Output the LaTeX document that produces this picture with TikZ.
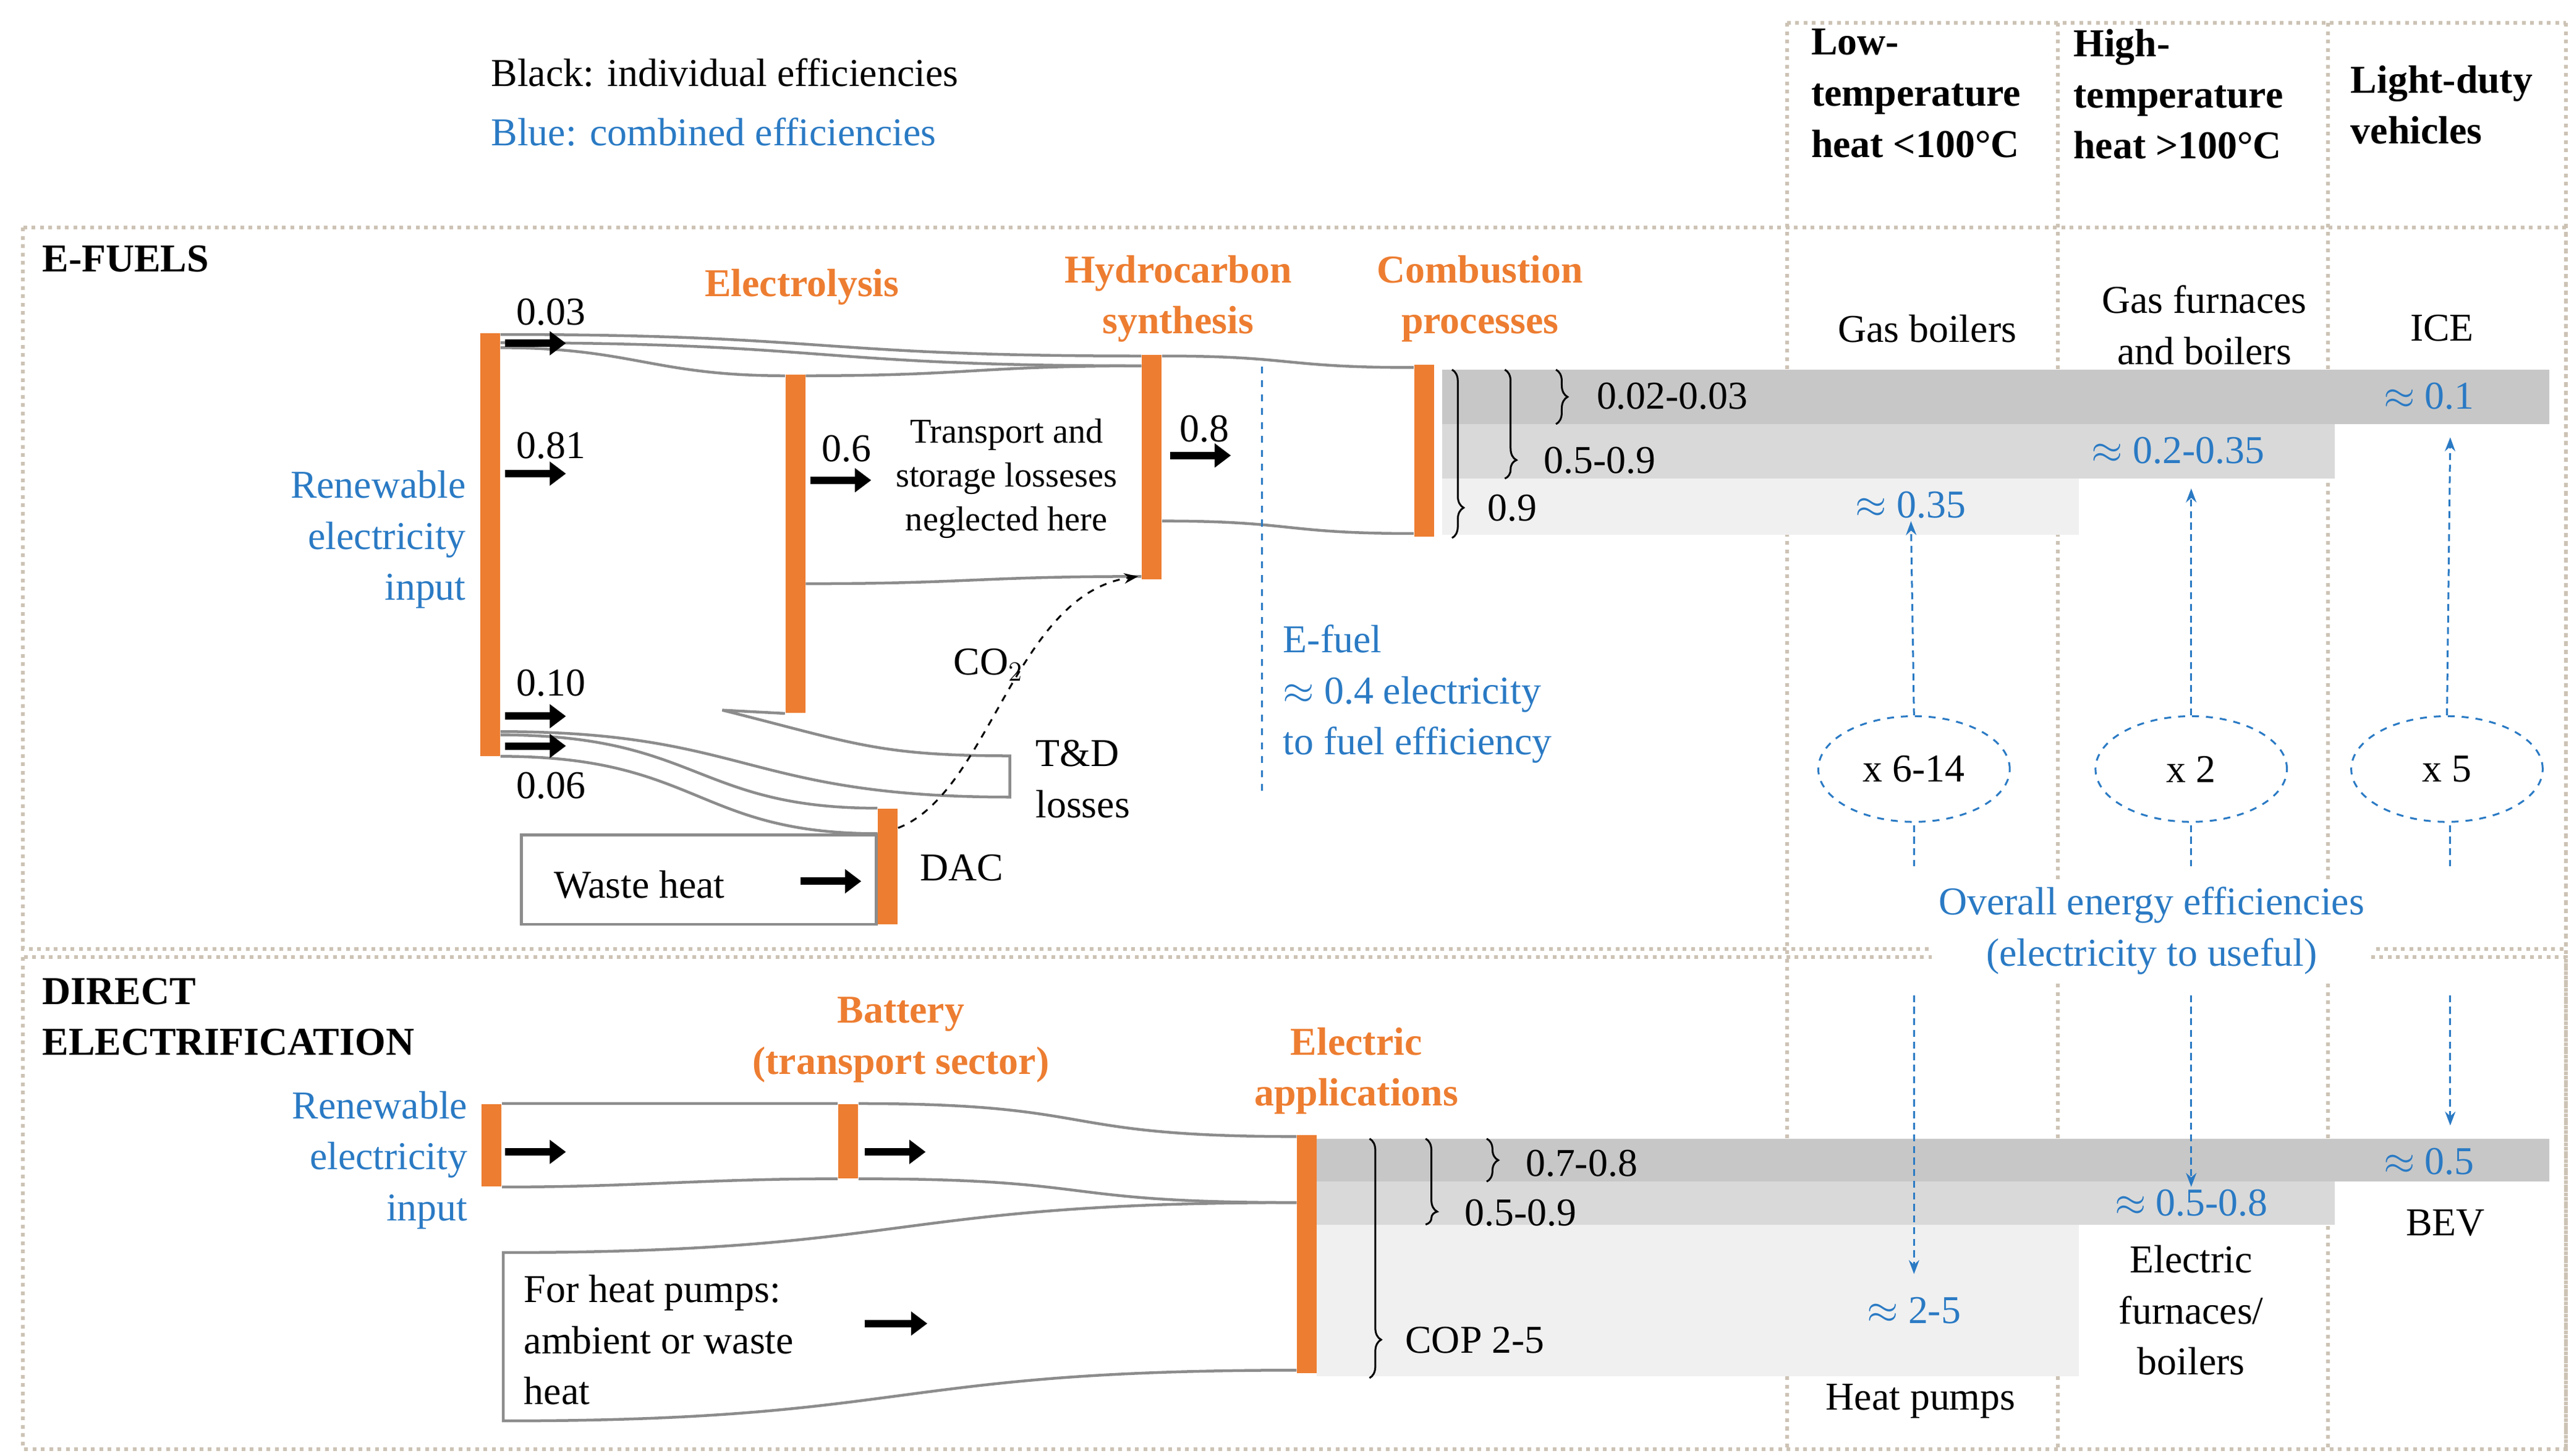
\documentclass[tikz,border=0pt]{standalone}
\usepackage{fontspec}
\setmainfont{Liberation Serif}
\usepackage{xcolor}
\usetikzlibrary{calc,arrows.meta,decorations.pathreplacing,shapes.geometric}
\definecolor{eorange}{HTML}{ED7D31}
\definecolor{eblue}{HTML}{2A7AC4}
\definecolor{frame}{HTML}{CDC3B5}
\begin{document}
\begin{tikzpicture}[
    x=0.025cm, y=-0.025cm,
    every node/.style={font=\fontsize{17}{22}\selectfont, inner sep=1pt},
    bar/.style={rectangle, fill=eorange, minimum width=0.3cm, inner sep=0pt},
    flow/.style={draw=gray!90, line width=1.2pt},
    big/.style={line width=3.2pt, -{Triangle[length=7pt,width=10pt]}},
    stage/.style={text=eorange, font=\fontsize{17}{22}\selectfont\bfseries, align=center},
    comb/.style={text=eblue},
    dots/.style={draw=frame, dotted, line width=1.6pt},
    brc/.style={decorate, thick, decoration={brace, amplitude=5pt, aspect=#1}},
    brc/.default=0.5,
    loop/.style={draw=eblue, dashed, thick, ellipse, minimum width=2.9cm, minimum height=1.6cm},
    up/.style={draw=eblue, densely dashed, thick, -{Stealth[length=6pt]}}
]
\useasboundingbox (0,0) rectangle (1560,882);

% frames
\draw[dots] (14,138) rectangle (1555,575);
\draw[dots] (14,580) rectangle (1555,878);
\draw[dots] (1083,14) -- (1555,14);
\foreach \x in {1083,1247,1411,1555}
  \draw[dots] (\x,14) -- (\x,878);

% bands
\fill[black!22] (874,224) rectangle (1545,257);
\fill[black!15] (874,257) rectangle (1415,290);
\fill[black!6] (874,290) rectangle (1260,324);
\fill[black!22] (798,690) rectangle (1545,716);
\fill[black!15] (798,716) rectangle (1415,742);
\fill[black!6] (798,742) rectangle (1260,834);

% legend and headers
\node[anchor=west] (legk) at (296,44) {Black: individual efficiencies};
\node[anchor=west, comb] (legb) at (296,80) {Blue: combined efficiencies};
\node[anchor=north west, align=left, font=\fontsize{17}{22}\selectfont\bfseries] (hlow) at (1096,16) {Low-\\temperature\\heat <100°C};
\node[anchor=north west, align=left, font=\fontsize{17}{22}\selectfont\bfseries] (hhigh) at (1255,16) {High-\\temperature\\heat >100°C};
\node[anchor=north west, align=left, font=\fontsize{17}{22}\selectfont\bfseries] (hldv) at (1423,38) {Light-duty\\vehicles};
\node[anchor=west, font=\fontsize{17}{22}\selectfont\bfseries] (efuels) at (24,157) {E-FUELS};
\node[anchor=north west, align=left, font=\fontsize{17}{22}\selectfont\bfseries] (direct) at (24,591) {DIRECT\\ELECTRIFICATION};

% e-fuel chain
\node[bar, minimum height=6.4cm] (ren) at (297,330) {};
\node[bar, minimum height=5.125cm] (elec) at (482,329.5) {};
\node[bar, minimum height=3.4cm] (hc) at (698,283) {};
\node[bar, minimum height=2.6cm] (comb) at (863,273) {};
\node[bar, minimum height=1.75cm] (dac) at (538,525) {};
\node[draw=gray!90, line width=1.2pt, minimum width=5.375cm, minimum height=1.35cm, inner sep=0pt] (waste) at (423.5,533) {};
\node[anchor=west] at (334,536) {Waste heat};
\draw[big] (485,534) -- (522,534);

\node[stage] (lelec) at (486,174) {Electrolysis};
\node[stage] (lhc) at (714,181) {Hydrocarbon\\synthesis};
\node[stage] (lcomb) at (897,181) {Combustion\\processes};
\node[comb, align=right, anchor=east] (lren) at (284,327) {Renewable\\electricity\\input};

\draw[flow] ($(ren.north east)+(0,1)$) .. controls +(200,0) and +(-200,0) .. ($(hc.north west)+(0,1)$);
\draw[flow] ($(ren.north east)+(0,6)$) .. controls +(200,0) and +(-200,0) .. ($(hc.north west)+(0,7)$);
\draw[flow] ($(ren.north east)+(0,9)$) .. controls +(80,0) and +(-80,0) .. ($(elec.north west)+(0,1)$);
\draw[flow] ($(elec.north east)+(0,1)$) .. controls +(100,0) and +(-100,0) .. ($(hc.north west)+(0,7)$);
\draw[flow] ($(elec.north east)+(0,127)$) .. controls +(100,0) and +(-100,0) .. ($(hc.south west)+(0,-2)$);
\draw[flow] ($(hc.north east)+(0,1)$) .. controls +(80,0) and +(-80,0) .. ($(comb.north west)+(0,2)$);
\draw[flow] ($(hc.north east)+(0,101)$) .. controls +(80,0) and +(-80,0) .. ($(comb.south west)+(0,-2)$);

\coordinate (td1) at (612,458);
\coordinate (td2) at (612,483);
\draw[flow] (elec.south west) -- ++(-38,-2) .. controls +(80,20) and +(-80,0) .. (td1) -- (td2)
  .. controls +(-160,0) and +(150,0) .. ($(ren.south east)+(0,-15)$);
\draw[flow] ($(ren.south east)+(0,-13)$) .. controls +(120,0) and +(-110,0) .. (dac.north west);
\draw[flow] (ren.south east) .. controls +(120,0) and +(-110,0) .. (waste.north east);

\draw[dashed, thick, -{Stealth[length=6pt]}] ($(dac.north east)+(0,12)$) .. controls (600,480) and (615,360) .. ($(hc.south west)+(-2,-2)$);
\node at (599,403) {CO$_2$};
\node[align=left, anchor=west] (td) at (626,472) {T\&D\\losses};
\node[anchor=west] (ldac) at (556,526) {DAC};

\node (n003) at (334,189) {0.03};
\node (n081) at (334,270) {0.81};
\node (n010) at (334,414) {0.10};
\node (n006) at (334,476) {0.06};
\node (n06) at (513,272) {0.6};
\node (n08) at (730,260) {0.8};
\draw[big] (306,208) -- (343,208);
\draw[big] (306,287) -- (343,287);
\draw[big] (306,434) -- (343,434);
\draw[big] (306,452) -- (343,452);
\draw[big] (491,291) -- (528,291);
\draw[big] (709,276) -- (746,276);
\node[align=center, font=\fontsize{15}{19}\selectfont] (tsl) at (610,290) {Transport and\\storage losseses\\neglected here};

\draw[eblue, dashed, thick] (765,222) -- (765,482);
\node[comb, align=left, anchor=north west] (efuel) at (776,377) {E-fuel\\$\approx$ 0.4 electricity\\to fuel efficiency};

\draw[brc] (943,224) -- (943,257);
\draw[brc=0.83] (912,224) -- (912,290);
\draw[brc=0.82] (880,224) -- (880,326);
\node[anchor=west] at (966,240) {0.02-0.03};
\node[anchor=west] at (934,279) {0.5-0.9};
\node[anchor=west] at (900,308) {0.9};

\node (gb) at (1168,199) {Gas boilers};
\node[align=center] (gfb) at (1336,197) {Gas furnaces\\and boilers};
\node (ice) at (1480,199) {ICE};
\node[comb] (v1) at (1472,240) {$\approx$ 0.1};
\node[comb] (v2) at (1320,273) {$\approx$ 0.2-0.35};
\node[comb] (v3) at (1158,306) {$\approx$ 0.35};

% factors
\node[loop] (f1) at (1160,466) {x 6-14};
\node[loop] (f2) at (1328,466) {x 2};
\node[loop] (f3) at (1483,466) {x 5};
\node[comb, align=center, fill=white, inner sep=3pt] (overall) at (1304,564) {Overall energy efficiencies\\(electricity to useful)};
\draw[up] (f1.north) -- (v3);
\draw[up] (f2.north) -- (1328,296);
\draw[up] (f3.north) -- (1485,265);
\foreach \x in {1160,1328,1485}
  \draw[eblue, densely dashed, thick] (\x,500) -- (\x,525);

% direct electrification
\node[bar, minimum height=1.25cm] (ren2) at (298,694) {};
\node[bar, minimum height=1.125cm] (bat) at (514,691.5) {};
\node[bar, minimum height=3.6cm] (elapp) at (792,760) {};
\node[stage] (lbat) at (546,630) {Battery\\(transport sector)};
\node[stage] (lapp) at (822,649) {Electric\\applications};
\node[comb, align=right, anchor=east] (lren2) at (285,703) {Renewable\\electricity\\input};

\draw[flow] (ren2.north east) -- (bat.north west);
\draw[flow] (ren2.south east) .. controls +(80,0) and +(-80,0) .. (bat.south west);
\draw[flow] (bat.north east) .. controls +(150,0) and +(-150,0) .. ($(elapp.north west)+(0,1)$);
\draw[flow] (bat.south east) .. controls +(150,0) and +(-150,0) .. ($(elapp.north west)+(0,41)$);
\coordinate (hp1) at (305,759);
\coordinate (hp2) at (305,861);
\draw[flow] ($(elapp.north west)+(0,41)$) .. controls +(-250,0) and +(250,0) .. (hp1) -- (hp2)
  .. controls +(250,0) and +(-250,0) .. ($(elapp.south west)+(0,-2)$);
\node[align=left, anchor=north west] (hpt) at (316,771) {For heat pumps:\\ambient or waste\\heat};
\draw[big] (306,698) -- (343,698);
\draw[big] (524,698) -- (561,698);
\draw[big] (524,802) -- (562,802);

\draw[brc] (901,690) -- (901,716);
\draw[brc=0.85] (864,690) -- (864,742);
\draw[brc=0.84] (830,690) -- (830,835);
\node[anchor=west] at (923,705) {0.7-0.8};
\node[anchor=west] at (886,735) {0.5-0.9};
\node[anchor=west] at (850,812) {COP 2-5};

\node[comb] (w1) at (1472,704) {$\approx$ 0.5};
\node[comb] (w2) at (1328,729) {$\approx$ 0.5-0.8};
\node[comb] (w3) at (1160,794) {$\approx$ 2-5};
\node (bev) at (1482,741) {BEV};
\node[align=center] (efb) at (1328,794) {Electric\\furnaces/\\boilers};
\node (hpump) at (1164,849) {Heat pumps};
\draw[up] (1160,603) -- (1160,772);
\draw[up] (1328,603) -- (w2.north);
\draw[up] (1485,603) -- (1485,682);
\end{tikzpicture}
\end{document}
